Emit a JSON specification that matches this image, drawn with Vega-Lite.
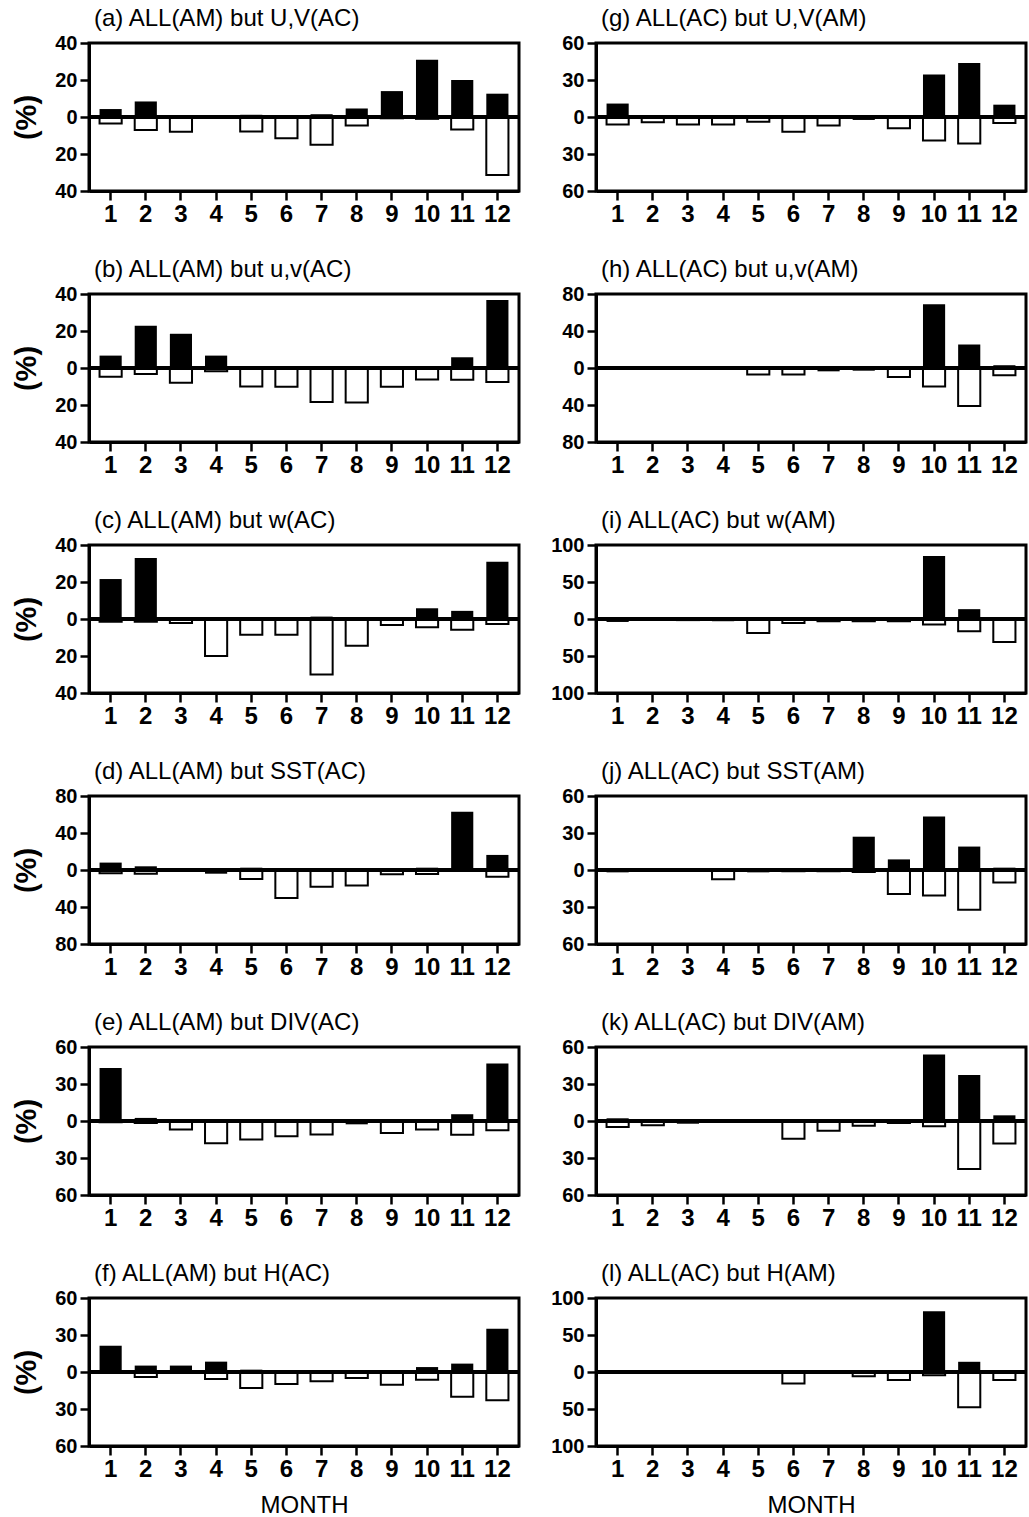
{
"$schema": "https://vega.github.io/schema/vega-lite/v6.json",
"background": "white",
"padding": {"left": 11, "top": 5, "right": 0, "bottom": 0},
"datasets": {"d": [
{"p":"a","m":1,"b":4.3,"w":-3.5},{"p":"a","m":2,"b":8.4,"w":-7},{"p":"a","m":3,"b":0,"w":-8},{"p":"a","m":4,"b":0,"w":0},{"p":"a","m":5,"b":1.2,"w":-7.8},{"p":"a","m":6,"b":0,"w":-11.5},{"p":"a","m":7,"b":1.5,"w":-15},{"p":"a","m":8,"b":4.6,"w":-4.6},{"p":"a","m":9,"b":14,"w":-0.7},{"p":"a","m":10,"b":31,"w":-1},{"p":"a","m":11,"b":20,"w":-6.8},{"p":"a","m":12,"b":12.6,"w":-31.3},
{"p":"b","m":1,"b":6.7,"w":-4.7},{"p":"b","m":2,"b":22.9,"w":-3.3},{"p":"b","m":3,"b":18.5,"w":-8},{"p":"b","m":4,"b":6.7,"w":-1.8},{"p":"b","m":5,"b":0,"w":-10},{"p":"b","m":6,"b":0,"w":-10.2},{"p":"b","m":7,"b":0,"w":-18.4},{"p":"b","m":8,"b":0,"w":-18.7},{"p":"b","m":9,"b":0,"w":-10.2},{"p":"b","m":10,"b":0,"w":-6.2},{"p":"b","m":11,"b":5.8,"w":-6.4},{"p":"b","m":12,"b":36.7,"w":-7.5},
{"p":"c","m":1,"b":21.6,"w":-1.5},{"p":"c","m":2,"b":33,"w":-1.5},{"p":"c","m":3,"b":0,"w":-2.2},{"p":"c","m":4,"b":0,"w":-20},{"p":"c","m":5,"b":0,"w":-8.5},{"p":"c","m":6,"b":0,"w":-8.5},{"p":"c","m":7,"b":1.3,"w":-30},{"p":"c","m":8,"b":0,"w":-14.4},{"p":"c","m":9,"b":0,"w":-3.3},{"p":"c","m":10,"b":5.8,"w":-4.5},{"p":"c","m":11,"b":4.4,"w":-5.8},{"p":"c","m":12,"b":31,"w":-2.7},
{"p":"d","m":1,"b":8,"w":-3.6},{"p":"d","m":2,"b":4,"w":-4},{"p":"d","m":3,"b":0,"w":0},{"p":"d","m":4,"b":-4,"w":0},{"p":"d","m":5,"b":2.5,"w":-9.8},{"p":"d","m":6,"b":0,"w":-30.4},{"p":"d","m":7,"b":0,"w":-18},{"p":"d","m":8,"b":0,"w":-16.7},{"p":"d","m":9,"b":0,"w":-4.7},{"p":"d","m":10,"b":2.5,"w":-4.3},{"p":"d","m":11,"b":63,"w":0},{"p":"d","m":12,"b":16.3,"w":-7.2},
{"p":"e","m":1,"b":43,"w":-1},{"p":"e","m":2,"b":2.5,"w":-1.6},{"p":"e","m":3,"b":0,"w":-6.8},{"p":"e","m":4,"b":0,"w":-18},{"p":"e","m":5,"b":0,"w":-15},{"p":"e","m":6,"b":0,"w":-12.3},{"p":"e","m":7,"b":0,"w":-11},{"p":"e","m":8,"b":-2.7,"w":0},{"p":"e","m":9,"b":0,"w":-9.8},{"p":"e","m":10,"b":0,"w":-6.8},{"p":"e","m":11,"b":5.5,"w":-11.2},{"p":"e","m":12,"b":46.6,"w":-7.6},
{"p":"f","m":1,"b":21.3,"w":0},{"p":"f","m":2,"b":5.2,"w":-4},{"p":"f","m":3,"b":5.2,"w":0},{"p":"f","m":4,"b":8.4,"w":-5.7},{"p":"f","m":5,"b":1.9,"w":-13},{"p":"f","m":6,"b":0,"w":-9.8},{"p":"f","m":7,"b":1,"w":-7.6},{"p":"f","m":8,"b":0,"w":-4.9},{"p":"f","m":9,"b":0,"w":-10.4},{"p":"f","m":10,"b":4,"w":-6.3},{"p":"f","m":11,"b":6.8,"w":-20},{"p":"f","m":12,"b":35,"w":-23},
{"p":"g","m":1,"b":10.9,"w":-6},{"p":"g","m":2,"b":0.8,"w":-4.3},{"p":"g","m":3,"b":0,"w":-6},{"p":"g","m":4,"b":0,"w":-6},{"p":"g","m":5,"b":0.5,"w":-3.8},{"p":"g","m":6,"b":0,"w":-12},{"p":"g","m":7,"b":0,"w":-6.8},{"p":"g","m":8,"b":-2.4,"w":0},{"p":"g","m":9,"b":0,"w":-9.2},{"p":"g","m":10,"b":34.5,"w":-19},{"p":"g","m":11,"b":43.7,"w":-21.5},{"p":"g","m":12,"b":10,"w":-4.9},
{"p":"h","m":1,"b":0,"w":-0.5},{"p":"h","m":2,"b":0,"w":-0.5},{"p":"h","m":3,"b":0,"w":-0.5},{"p":"h","m":4,"b":0,"w":-0.5},{"p":"h","m":5,"b":0,"w":-7},{"p":"h","m":6,"b":0,"w":-7},{"p":"h","m":7,"b":-3.6,"w":0},{"p":"h","m":8,"b":-2.9,"w":0},{"p":"h","m":9,"b":0,"w":-9.7},{"p":"h","m":10,"b":69,"w":-20},{"p":"h","m":11,"b":25.4,"w":-41},{"p":"h","m":12,"b":3,"w":-7.9},
{"p":"i","m":1,"b":-4,"w":0},{"p":"i","m":2,"b":0,"w":0},{"p":"i","m":3,"b":0,"w":-1.5},{"p":"i","m":4,"b":-3,"w":0},{"p":"i","m":5,"b":0,"w":-19},{"p":"i","m":6,"b":0,"w":-5.3},{"p":"i","m":7,"b":0,"w":-3},{"p":"i","m":8,"b":0,"w":-3},{"p":"i","m":9,"b":0,"w":-3},{"p":"i","m":10,"b":85,"w":-7.5},{"p":"i","m":11,"b":13.3,"w":-16.4},{"p":"i","m":12,"b":0,"w":-31},
{"p":"j","m":1,"b":-1.9,"w":0},{"p":"j","m":2,"b":0,"w":0},{"p":"j","m":3,"b":0,"w":-0.5},{"p":"j","m":4,"b":0,"w":-7.5},{"p":"j","m":5,"b":-1.9,"w":0},{"p":"j","m":6,"b":0,"w":-1},{"p":"j","m":7,"b":0,"w":-1},{"p":"j","m":8,"b":27,"w":-1.6},{"p":"j","m":9,"b":8.6,"w":-19.4},{"p":"j","m":10,"b":43.3,"w":-20.7},{"p":"j","m":11,"b":19,"w":-32.3},{"p":"j","m":12,"b":1.9,"w":-10.2},
{"p":"k","m":1,"b":2.2,"w":-4.9},{"p":"k","m":2,"b":0,"w":-3.5},{"p":"k","m":3,"b":-2.2,"w":0},{"p":"k","m":4,"b":0,"w":0},{"p":"k","m":5,"b":0,"w":0},{"p":"k","m":6,"b":0,"w":-14.4},{"p":"k","m":7,"b":0,"w":-7.9},{"p":"k","m":8,"b":0,"w":-3.8},{"p":"k","m":9,"b":0,"w":-1.6},{"p":"k","m":10,"b":54,"w":-4.3},{"p":"k","m":11,"b":37.2,"w":-39},{"p":"k","m":12,"b":4.6,"w":-18.2},
{"p":"l","m":1,"b":0,"w":0},{"p":"l","m":2,"b":0,"w":0},{"p":"l","m":3,"b":0,"w":0},{"p":"l","m":4,"b":0,"w":-1.3},{"p":"l","m":5,"b":0,"w":-1.3},{"p":"l","m":6,"b":0,"w":-15.5},{"p":"l","m":7,"b":-2.7,"w":0},{"p":"l","m":8,"b":0,"w":-5.8},{"p":"l","m":9,"b":0,"w":-10.7},{"p":"l","m":10,"b":82,"w":-4.4},{"p":"l","m":11,"b":13.8,"w":-47.5},{"p":"l","m":12,"b":0,"w":-10.7}
]},
"data": {"name": "d"},
"columns": 2,
"spacing": {"row": 28, "column": 27},
"concat": [
{"title": "(a) ALL(AM) but U,V(AC)", "width": 430, "height": 148, "transform": [{"filter": "datum.p==='a'"}],
 "layer": [
  {"mark": {"type": "bar", "fill": "white", "stroke": "black", "strokeWidth": 2}, "encoding": {"x": {"field": "m", "type": "ordinal", "scale": {"paddingInner": 0.37, "paddingOuter": 0.3}, "axis": {"title": null}}, "y": {"field": "w", "type": "quantitative", "title": "(%)", "scale": {"domain": [-40, 40], "nice": false}, "axis": {"values": [-40, -20, 0, 20, 40], "labelExpr": "abs(datum.value)"}}, "y2": {"datum": 0}}},
  {"mark": {"type": "bar", "fill": "black"}, "encoding": {"x": {"field": "m", "type": "ordinal", "axis": {"title": null}}, "y": {"field": "b", "type": "quantitative", "title": "(%)", "axis": {"values": [-40, -20, 0, 20, 40], "labelExpr": "abs(datum.value)"}}, "y2": {"datum": 0}}},
  {"mark": {"type": "rule", "strokeWidth": 3, "color": "black"}, "encoding": {"y": {"datum": 0, "title": "(%)", "axis": {"values": [-40, -20, 0, 20, 40], "labelExpr": "abs(datum.value)"}}}}
 ]},
{"title": "(g) ALL(AC) but U,V(AM)", "width": 430, "height": 148, "transform": [{"filter": "datum.p==='g'"}],
 "layer": [
  {"mark": {"type": "bar", "fill": "white", "stroke": "black", "strokeWidth": 2}, "encoding": {"x": {"field": "m", "type": "ordinal", "scale": {"paddingInner": 0.37, "paddingOuter": 0.3}, "axis": {"title": null}}, "y": {"field": "w", "type": "quantitative", "title": null, "scale": {"domain": [-60, 60], "nice": false}, "axis": {"values": [-60, -30, 0, 30, 60], "labelExpr": "abs(datum.value)"}}, "y2": {"datum": 0}}},
  {"mark": {"type": "bar", "fill": "black"}, "encoding": {"x": {"field": "m", "type": "ordinal", "axis": {"title": null}}, "y": {"field": "b", "type": "quantitative", "title": null, "axis": {"values": [-60, -30, 0, 30, 60], "labelExpr": "abs(datum.value)"}}, "y2": {"datum": 0}}},
  {"mark": {"type": "rule", "strokeWidth": 3, "color": "black"}, "encoding": {"y": {"datum": 0, "title": null, "axis": {"values": [-60, -30, 0, 30, 60], "labelExpr": "abs(datum.value)"}}}}
 ]},
{"title": "(b) ALL(AM) but u,v(AC)", "width": 430, "height": 148, "transform": [{"filter": "datum.p==='b'"}],
 "layer": [
  {"mark": {"type": "bar", "fill": "white", "stroke": "black", "strokeWidth": 2}, "encoding": {"x": {"field": "m", "type": "ordinal", "scale": {"paddingInner": 0.37, "paddingOuter": 0.3}, "axis": {"title": null}}, "y": {"field": "w", "type": "quantitative", "title": "(%)", "scale": {"domain": [-40, 40], "nice": false}, "axis": {"values": [-40, -20, 0, 20, 40], "labelExpr": "abs(datum.value)"}}, "y2": {"datum": 0}}},
  {"mark": {"type": "bar", "fill": "black"}, "encoding": {"x": {"field": "m", "type": "ordinal", "axis": {"title": null}}, "y": {"field": "b", "type": "quantitative", "title": "(%)", "axis": {"values": [-40, -20, 0, 20, 40], "labelExpr": "abs(datum.value)"}}, "y2": {"datum": 0}}},
  {"mark": {"type": "rule", "strokeWidth": 3, "color": "black"}, "encoding": {"y": {"datum": 0, "title": "(%)", "axis": {"values": [-40, -20, 0, 20, 40], "labelExpr": "abs(datum.value)"}}}}
 ]},
{"title": "(h) ALL(AC) but u,v(AM)", "width": 430, "height": 148, "transform": [{"filter": "datum.p==='h'"}],
 "layer": [
  {"mark": {"type": "bar", "fill": "white", "stroke": "black", "strokeWidth": 2}, "encoding": {"x": {"field": "m", "type": "ordinal", "scale": {"paddingInner": 0.37, "paddingOuter": 0.3}, "axis": {"title": null}}, "y": {"field": "w", "type": "quantitative", "title": null, "scale": {"domain": [-80, 80], "nice": false}, "axis": {"values": [-80, -40, 0, 40, 80], "labelExpr": "abs(datum.value)"}}, "y2": {"datum": 0}}},
  {"mark": {"type": "bar", "fill": "black"}, "encoding": {"x": {"field": "m", "type": "ordinal", "axis": {"title": null}}, "y": {"field": "b", "type": "quantitative", "title": null, "axis": {"values": [-80, -40, 0, 40, 80], "labelExpr": "abs(datum.value)"}}, "y2": {"datum": 0}}},
  {"mark": {"type": "rule", "strokeWidth": 3, "color": "black"}, "encoding": {"y": {"datum": 0, "title": null, "axis": {"values": [-80, -40, 0, 40, 80], "labelExpr": "abs(datum.value)"}}}}
 ]},
{"title": "(c) ALL(AM) but w(AC)", "width": 430, "height": 148, "transform": [{"filter": "datum.p==='c'"}],
 "layer": [
  {"mark": {"type": "bar", "fill": "white", "stroke": "black", "strokeWidth": 2}, "encoding": {"x": {"field": "m", "type": "ordinal", "scale": {"paddingInner": 0.37, "paddingOuter": 0.3}, "axis": {"title": null}}, "y": {"field": "w", "type": "quantitative", "title": "(%)", "scale": {"domain": [-40, 40], "nice": false}, "axis": {"values": [-40, -20, 0, 20, 40], "labelExpr": "abs(datum.value)"}}, "y2": {"datum": 0}}},
  {"mark": {"type": "bar", "fill": "black"}, "encoding": {"x": {"field": "m", "type": "ordinal", "axis": {"title": null}}, "y": {"field": "b", "type": "quantitative", "title": "(%)", "axis": {"values": [-40, -20, 0, 20, 40], "labelExpr": "abs(datum.value)"}}, "y2": {"datum": 0}}},
  {"mark": {"type": "rule", "strokeWidth": 3, "color": "black"}, "encoding": {"y": {"datum": 0, "title": "(%)", "axis": {"values": [-40, -20, 0, 20, 40], "labelExpr": "abs(datum.value)"}}}}
 ]},
{"title": "(i) ALL(AC) but w(AM)", "width": 430, "height": 148, "transform": [{"filter": "datum.p==='i'"}],
 "layer": [
  {"mark": {"type": "bar", "fill": "white", "stroke": "black", "strokeWidth": 2}, "encoding": {"x": {"field": "m", "type": "ordinal", "scale": {"paddingInner": 0.37, "paddingOuter": 0.3}, "axis": {"title": null}}, "y": {"field": "w", "type": "quantitative", "title": null, "scale": {"domain": [-100, 100], "nice": false}, "axis": {"values": [-100, -50, 0, 50, 100], "labelExpr": "abs(datum.value)"}}, "y2": {"datum": 0}}},
  {"mark": {"type": "bar", "fill": "black"}, "encoding": {"x": {"field": "m", "type": "ordinal", "axis": {"title": null}}, "y": {"field": "b", "type": "quantitative", "title": null, "axis": {"values": [-100, -50, 0, 50, 100], "labelExpr": "abs(datum.value)"}}, "y2": {"datum": 0}}},
  {"mark": {"type": "rule", "strokeWidth": 3, "color": "black"}, "encoding": {"y": {"datum": 0, "title": null, "axis": {"values": [-100, -50, 0, 50, 100], "labelExpr": "abs(datum.value)"}}}}
 ]},
{"title": "(d) ALL(AM) but SST(AC)", "width": 430, "height": 148, "transform": [{"filter": "datum.p==='d'"}],
 "layer": [
  {"mark": {"type": "bar", "fill": "white", "stroke": "black", "strokeWidth": 2}, "encoding": {"x": {"field": "m", "type": "ordinal", "scale": {"paddingInner": 0.37, "paddingOuter": 0.3}, "axis": {"title": null}}, "y": {"field": "w", "type": "quantitative", "title": "(%)", "scale": {"domain": [-80, 80], "nice": false}, "axis": {"values": [-80, -40, 0, 40, 80], "labelExpr": "abs(datum.value)"}}, "y2": {"datum": 0}}},
  {"mark": {"type": "bar", "fill": "black"}, "encoding": {"x": {"field": "m", "type": "ordinal", "axis": {"title": null}}, "y": {"field": "b", "type": "quantitative", "title": "(%)", "axis": {"values": [-80, -40, 0, 40, 80], "labelExpr": "abs(datum.value)"}}, "y2": {"datum": 0}}},
  {"mark": {"type": "rule", "strokeWidth": 3, "color": "black"}, "encoding": {"y": {"datum": 0, "title": "(%)", "axis": {"values": [-80, -40, 0, 40, 80], "labelExpr": "abs(datum.value)"}}}}
 ]},
{"title": "(j) ALL(AC) but SST(AM)", "width": 430, "height": 148, "transform": [{"filter": "datum.p==='j'"}],
 "layer": [
  {"mark": {"type": "bar", "fill": "white", "stroke": "black", "strokeWidth": 2}, "encoding": {"x": {"field": "m", "type": "ordinal", "scale": {"paddingInner": 0.37, "paddingOuter": 0.3}, "axis": {"title": null}}, "y": {"field": "w", "type": "quantitative", "title": null, "scale": {"domain": [-60, 60], "nice": false}, "axis": {"values": [-60, -30, 0, 30, 60], "labelExpr": "abs(datum.value)"}}, "y2": {"datum": 0}}},
  {"mark": {"type": "bar", "fill": "black"}, "encoding": {"x": {"field": "m", "type": "ordinal", "axis": {"title": null}}, "y": {"field": "b", "type": "quantitative", "title": null, "axis": {"values": [-60, -30, 0, 30, 60], "labelExpr": "abs(datum.value)"}}, "y2": {"datum": 0}}},
  {"mark": {"type": "rule", "strokeWidth": 3, "color": "black"}, "encoding": {"y": {"datum": 0, "title": null, "axis": {"values": [-60, -30, 0, 30, 60], "labelExpr": "abs(datum.value)"}}}}
 ]},
{"title": "(e) ALL(AM) but DIV(AC)", "width": 430, "height": 148, "transform": [{"filter": "datum.p==='e'"}],
 "layer": [
  {"mark": {"type": "bar", "fill": "white", "stroke": "black", "strokeWidth": 2}, "encoding": {"x": {"field": "m", "type": "ordinal", "scale": {"paddingInner": 0.37, "paddingOuter": 0.3}, "axis": {"title": null}}, "y": {"field": "w", "type": "quantitative", "title": "(%)", "scale": {"domain": [-60, 60], "nice": false}, "axis": {"values": [-60, -30, 0, 30, 60], "labelExpr": "abs(datum.value)"}}, "y2": {"datum": 0}}},
  {"mark": {"type": "bar", "fill": "black"}, "encoding": {"x": {"field": "m", "type": "ordinal", "axis": {"title": null}}, "y": {"field": "b", "type": "quantitative", "title": "(%)", "axis": {"values": [-60, -30, 0, 30, 60], "labelExpr": "abs(datum.value)"}}, "y2": {"datum": 0}}},
  {"mark": {"type": "rule", "strokeWidth": 3, "color": "black"}, "encoding": {"y": {"datum": 0, "title": "(%)", "axis": {"values": [-60, -30, 0, 30, 60], "labelExpr": "abs(datum.value)"}}}}
 ]},
{"title": "(k) ALL(AC) but DIV(AM)", "width": 430, "height": 148, "transform": [{"filter": "datum.p==='k'"}],
 "layer": [
  {"mark": {"type": "bar", "fill": "white", "stroke": "black", "strokeWidth": 2}, "encoding": {"x": {"field": "m", "type": "ordinal", "scale": {"paddingInner": 0.37, "paddingOuter": 0.3}, "axis": {"title": null}}, "y": {"field": "w", "type": "quantitative", "title": null, "scale": {"domain": [-60, 60], "nice": false}, "axis": {"values": [-60, -30, 0, 30, 60], "labelExpr": "abs(datum.value)"}}, "y2": {"datum": 0}}},
  {"mark": {"type": "bar", "fill": "black"}, "encoding": {"x": {"field": "m", "type": "ordinal", "axis": {"title": null}}, "y": {"field": "b", "type": "quantitative", "title": null, "axis": {"values": [-60, -30, 0, 30, 60], "labelExpr": "abs(datum.value)"}}, "y2": {"datum": 0}}},
  {"mark": {"type": "rule", "strokeWidth": 3, "color": "black"}, "encoding": {"y": {"datum": 0, "title": null, "axis": {"values": [-60, -30, 0, 30, 60], "labelExpr": "abs(datum.value)"}}}}
 ]},
{"title": "(f) ALL(AM) but H(AC)", "width": 430, "height": 148, "transform": [{"filter": "datum.p==='f'"}],
 "layer": [
  {"mark": {"type": "bar", "fill": "white", "stroke": "black", "strokeWidth": 2}, "encoding": {"x": {"field": "m", "type": "ordinal", "scale": {"paddingInner": 0.37, "paddingOuter": 0.3}, "axis": {"title": "MONTH"}}, "y": {"field": "w", "type": "quantitative", "title": "(%)", "scale": {"domain": [-60, 60], "nice": false}, "axis": {"values": [-60, -30, 0, 30, 60], "labelExpr": "abs(datum.value)"}}, "y2": {"datum": 0}}},
  {"mark": {"type": "bar", "fill": "black"}, "encoding": {"x": {"field": "m", "type": "ordinal", "axis": {"title": "MONTH"}}, "y": {"field": "b", "type": "quantitative", "title": "(%)", "axis": {"values": [-60, -30, 0, 30, 60], "labelExpr": "abs(datum.value)"}}, "y2": {"datum": 0}}},
  {"mark": {"type": "rule", "strokeWidth": 3, "color": "black"}, "encoding": {"y": {"datum": 0, "title": "(%)", "axis": {"values": [-60, -30, 0, 30, 60], "labelExpr": "abs(datum.value)"}}}}
 ]},
{"title": "(l) ALL(AC) but H(AM)", "width": 430, "height": 148, "transform": [{"filter": "datum.p==='l'"}],
 "layer": [
  {"mark": {"type": "bar", "fill": "white", "stroke": "black", "strokeWidth": 2}, "encoding": {"x": {"field": "m", "type": "ordinal", "scale": {"paddingInner": 0.37, "paddingOuter": 0.3}, "axis": {"title": "MONTH"}}, "y": {"field": "w", "type": "quantitative", "title": null, "scale": {"domain": [-100, 100], "nice": false}, "axis": {"values": [-100, -50, 0, 50, 100], "labelExpr": "abs(datum.value)"}}, "y2": {"datum": 0}}},
  {"mark": {"type": "bar", "fill": "black"}, "encoding": {"x": {"field": "m", "type": "ordinal", "axis": {"title": "MONTH"}}, "y": {"field": "b", "type": "quantitative", "title": null, "axis": {"values": [-100, -50, 0, 50, 100], "labelExpr": "abs(datum.value)"}}, "y2": {"datum": 0}}},
  {"mark": {"type": "rule", "strokeWidth": 3, "color": "black"}, "encoding": {"y": {"datum": 0, "title": null, "axis": {"values": [-100, -50, 0, 50, 100], "labelExpr": "abs(datum.value)"}}}}
 ]}
],
"config": {
  "font": "Liberation Sans",
  "view": {"stroke": "black", "strokeWidth": 3},
  "axis": {"grid": false, "domainColor": "black", "domainWidth": 3, "tickColor": "black", "tickWidth": 2.5, "tickSize": 9, "labelColor": "black", "labelFontWeight": "bold", "titleColor": "black", "labelOverlap": false, "labelFlush": false},
  "axisX": {"labelFontSize": 24, "labelAngle": 0, "labelPadding": 2, "titleFontSize": 24, "titleFontWeight": "normal", "titlePadding": 12},
  "axisY": {"labelFontSize": 20, "labelPadding": 3, "titleFontSize": 29, "titleFontWeight": "bold", "titlePadding": 13},
  "title": {"fontSize": 24, "fontWeight": "normal", "anchor": "start", "frame": "group", "offset": 2, "color": "black", "dx": 5}
}
}
